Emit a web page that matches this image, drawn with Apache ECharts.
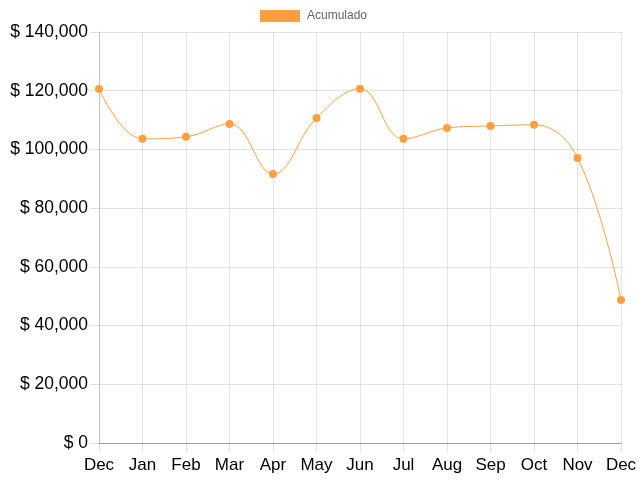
<!DOCTYPE html>
<html>
<head>
<meta charset="utf-8">
<script src="https://cdn.jsdelivr.net/npm/echarts@6/dist/echarts.min.js"></script>
<style>html,body{margin:0;padding:0;background:#fff}#c{width:640px;height:480px}</style>
</head>
<body>
<div id="c"></div>
<script>
const categories = ['Dec','Jan','Feb','Mar','Apr','May','Jun','Jul','Aug','Sep','Oct','Nov','Dec'];
const acumulado = [120600, 103600, 104300, 108700, 91600, 110700, 120700, 103600, 107300, 108000, 108400, 97100, 48700];
const seriesName = 'Acumulado';
const yMin = 0, yMax = 140000, yStep = 20000;

const chart = echarts.init(document.getElementById('c'), null, {renderer: 'canvas'});
const orange = 'rgb(255,159,64)';
chart.setOption({
  animation: false,
  legend: {
    top: 10, left: 260, padding: 0,
    itemWidth: 40, itemHeight: 12, itemGap: 10,
    icon: 'rect',
    textStyle: {color: '#666', fontSize: 12, fontFamily: 'Liberation Sans', padding: [0,0,0,2]},
    data: [{name: seriesName, itemStyle: {color: orange}}]
  },
  grid: {left: 99, right: 19, top: 32, bottom: 37, containLabel: false},
  xAxis: {
    type: 'category', data: categories, boundaryGap: false,
    axisLine: {show: true, lineStyle: {color: 'rgba(0,0,0,0.3)'}},
    axisTick: {show: true, length: 9, lineStyle: {color: 'rgba(0,0,0,0.12)'}},
    axisLabel: {color: '#000', fontSize: 17, fontFamily: 'Liberation Sans', margin: 14, interval: 0},
    splitLine: {show: true, lineStyle: {color: 'rgba(0,0,0,0.1)'}}
  },
  yAxis: {
    type: 'value', min: yMin, max: yMax, interval: yStep,
    axisLine: {show: true, lineStyle: {color: 'rgba(0,0,0,0.15)'}},
    axisTick: {show: true, length: 9, lineStyle: {color: 'rgba(0,0,0,0.12)'}},
    axisLabel: {color: '#000', fontSize: 17.5, fontFamily: 'Liberation Sans', margin: 11,
      formatter: v => '$ ' + v.toLocaleString('en-US')},
    splitLine: {show: true, lineStyle: {color: 'rgba(0,0,0,0.1)'}}
  },
  series: [{
    name: seriesName, type: 'line', data: acumulado, smooth: 0.4,
    symbol: 'circle', symbolSize: 8,
    itemStyle: {color: orange},
    lineStyle: {color: orange, width: 1}
  }]
});
</script>
</body>
</html>
